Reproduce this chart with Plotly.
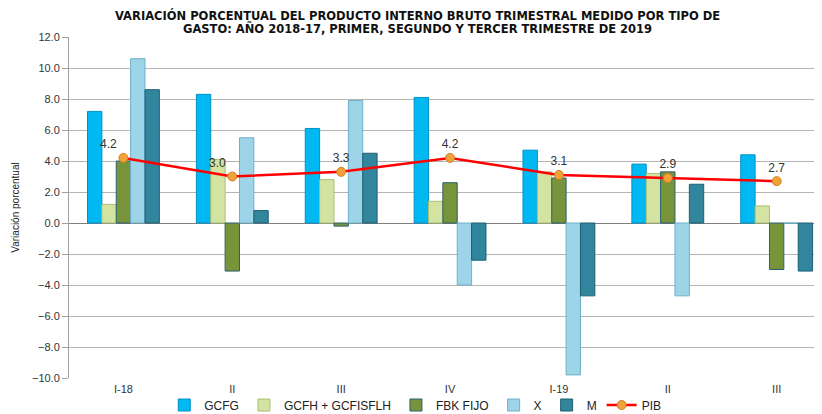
import plotly.graph_objects as go

categories = ["I-18", "II", "III", "IV", "I-19", "II ", "III "]
tick_text = ["I-18", "II", "III", "IV", "I-19", "II", "III"]
gcfg = [7.2, 8.3, 6.1, 8.1, 4.7, 3.8, 4.4]
gcfh = [1.2, 4.1, 2.8, 1.4, 3.3, 3.2, 1.1]
fbk = [4.0, -3.1, -0.2, 2.6, 2.9, 3.3, -3.0]
x_exp = [10.6, 5.5, 7.9, -4.0, -9.8, -4.7, 0.0]
m_imp = [8.6, 0.8, 4.5, -2.4, -4.7, 2.5, -3.1]
pib = [4.2, 3.0, 3.3, 4.2, 3.1, 2.9, 2.7]
pib_labels = ["4.2", "3.0", "3.3", "4.2", "3.1", "2.9", "2.7"]
pib_label_pos = ["top left", "top left", "top center", "top center", "top center", "top center", "top center"]
title_lines = [
    "VARIACIÓN PORCENTUAL DEL PRODUCTO INTERNO BRUTO TRIMESTRAL MEDIDO POR TIPO DE",
    "GASTO: AÑO 2018-17, PRIMER, SEGUNDO Y TERCER TRIMESTRE DE 2019",
]

series = [
    ("GCFG", gcfg, "#00B9F2", "#0090c8"),
    ("GCFH + GCFISFLH", gcfh, "#D3E3A2", "#a9c074"),
    ("FBK FIJO", fbk, "#77943A", "#2d6070"),
    ("X", x_exp, "#9DD4E7", "#6fb0c8"),
    ("M", m_imp, "#31869E", "#1e5f73"),
]

fig = go.Figure()
for name, vals, col, lc in series:
    fig.add_trace(go.Bar(
        x=categories, y=vals, name=name,
        marker=dict(color=col, line=dict(color=lc, width=1)),
    ))

fig.add_trace(go.Scatter(
    x=categories, y=pib, name="PIB", mode="lines+markers+text",
    line=dict(color="#FF0000", width=2.5),
    marker=dict(color="#F2A23A", size=9, line=dict(color="#d08020", width=1)),
    text=pib_labels, textposition=pib_label_pos,
    textfont=dict(family="Liberation Sans, Arial", size=12, color="#333333"),
))

# title as two tightly spaced lines
plot_top, plot_h = 29, 341
for line, ypix in zip(title_lines, [7.5, 20.5]):
    fig.add_annotation(
        text="<b>" + line + "</b>", xref="paper", yref="paper",
        x=(409 - 61) / 761, y=1 + (plot_top - ypix) / plot_h,
        xanchor="center", yanchor="middle", showarrow=False,
        font=dict(family="DejaVu Sans", size=11.5, color="#111111"),
    )

fig.update_layout(
    width=822, height=414,
    margin=dict(l=61, r=0, t=29, b=44, autoexpand=False),
    paper_bgcolor="white", plot_bgcolor="white",
    barmode="group", bargap=0.34, bargroupgap=0,
    font=dict(family="Liberation Sans, Arial", size=11, color="#333333"),
    legend=dict(
        orientation="h", x=0.455, xanchor="center",
        yref="container", y=(414 - 397) / 414, yanchor="middle",
        font=dict(family="Liberation Sans, Arial", size=12, color="#222222"),
        itemwidth=30, tracegroupgap=0, bgcolor="rgba(0,0,0,0)",
    ),
    showlegend=True,
)

fig.update_xaxes(
    type="category", range=[-0.5, 6.49],
    tickvals=categories, ticktext=tick_text,
    showgrid=False, showline=False, ticks="",
    tickfont=dict(family="Liberation Sans, Arial", size=11, color="#333333"),
    ticklabelstandoff=3,
    automargin=False,
)
fig.update_yaxes(
    range=[-10, 12], dtick=2, tickformat=".1f",
    showgrid=True, gridcolor="#b5b5b5", gridwidth=1,
    showline=True, linecolor="#a0a0a0", linewidth=1,
    ticks="outside", ticklen=6, tickcolor="#a0a0a0",
    zeroline=True, zerolinecolor="#808080", zerolinewidth=1,
    tickfont=dict(family="Liberation Sans, Arial", size=11, color="#333333"),
    title=dict(text="Variación porcentual", standoff=10,
               font=dict(family="Liberation Sans, Arial", size=10, color="#222222")),
    automargin=False,
)

fig.write_html("out.html")
